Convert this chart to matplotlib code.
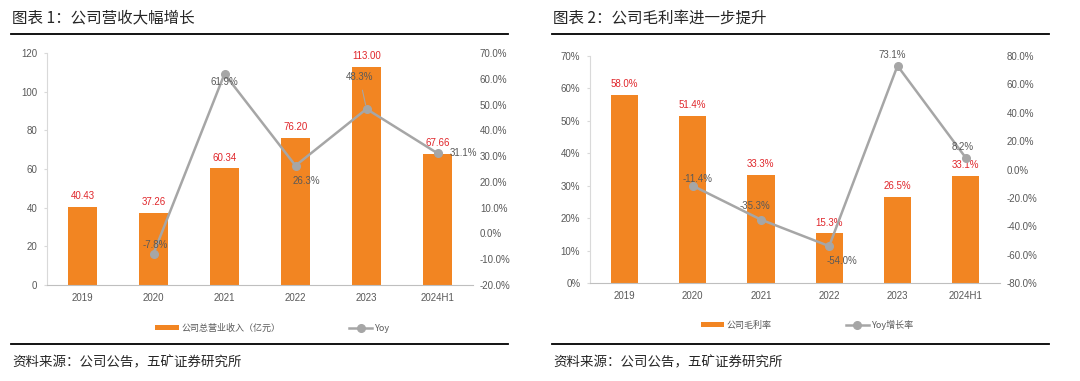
import numpy as np
import matplotlib
matplotlib.use('Agg')
from matplotlib import pyplot as plt
from matplotlib.lines import Line2D

plt.rcParams['font.family'] = ['Liberation Sans', 'Noto Sans CJK SC', 'DejaVu Sans']

years = ['2019', '2020', '2021', '2022', '2023', '2024H1']
revenue = [40.43, 37.26, 60.34, 76.20, 113.00, 67.66]
rev_yoy = [np.nan, -7.8, 61.9, 26.3, 48.3, 31.1]
margin = [58.0, 51.4, 33.3, 15.3, 26.5, 33.1]
margin_yoy = [np.nan, -11.4, -35.3, -54.0, 73.1, 8.2]

orange = '#F28522'
grey = '#A6A6A6'
red = '#E0262B'
tick_c = '#595959'
cjk = ['Noto Sans CJK SC', 'DejaVu Sans']

fig = plt.figure(figsize=(10.8, 3.81), dpi=100)

def fx(px):
    return px / 1080.0

def fy(py):
    return 1 - py / 381.0

def style(ax, ax2):
    for s in ['top', 'right']:
        ax.spines[s].set_visible(False)
    for s in ['top', 'right', 'left', 'bottom']:
        ax2.spines[s].set_visible(False)
    ax.spines['left'].set_color('#D9D9D9')
    ax.spines['bottom'].set_color('#BFBFBF')
    ax.tick_params(axis='y', labelsize=7, colors=tick_c, length=2, color='#D9D9D9', pad=5)
    ax.tick_params(axis='x', labelsize=7, colors=tick_c, length=0, pad=6)
    ax2.tick_params(axis='y', labelsize=7, colors=tick_c, length=0, pad=5)
    ax.set_xlim(-0.5, 5.5)

def label_yoy(ax2, vals, offs, lead):
    for i, (dx, dy) in offs.items():
        v = vals[i]
        kw = {}
        if i == lead:
            kw['arrowprops'] = dict(arrowstyle='-', color=grey, lw=0.8, shrinkA=4, shrinkB=3)
        ax2.annotate('%.1f%%' % v, (i, v), xytext=(dx, dy), textcoords='offset points',
                     ha='center', va='center', fontsize=7, color=tick_c, **kw)

x = np.arange(len(years))

# ---- chart 1
ax = fig.add_axes([fx(47), fy(285), fx(426), (285 - 53) / 381.0])
ax2 = ax.twinx()
b = ax.bar(x, revenue, width=0.4, color=orange)
ax.set_ylim(0, 120)
ax.set_yticks(range(0, 121, 20))
ax.set_xticks(x)
ax.set_xticklabels(years)
for i, v in enumerate(revenue):
    ax.text(i, v + 3, '%.2f' % v, ha='center', va='bottom', fontsize=7, color=red)
l, = ax2.plot(x, rev_yoy, color=grey, lw=1.8, marker='o', ms=5.5)
ax2.set_ylim(-20, 70)
ax2.set_yticks(range(-20, 71, 10))
ax2.set_yticklabels(['%.1f%%' % t for t in range(-20, 71, 10)])
label_yoy(ax2, rev_yoy, {1: (1, 6), 2: (0, -6), 3: (8, -11), 4: (-5, 23), 5: (19, 0)}, 4)
style(ax, ax2)
leg = ax.legend([b, l], ['公司总营业收入（亿元）', 'Yoy'], loc='center', bbox_to_anchor=(0.53, -0.185),
                ncol=2, frameon=False, columnspacing=7.6, handlelength=2.6, handletextpad=0.3,
                handleheight=0.5, prop={'family': cjk, 'size': 6.5})
for t in leg.get_texts():
    t.set_color(tick_c)

# ---- chart 2
bx = fig.add_axes([fx(590), fy(283), fx(410), (283 - 56) / 381.0])
bx2 = bx.twinx()
b2 = bx.bar(x, margin, width=0.4, color=orange)
bx.set_ylim(0, 70)
bx.set_yticks(range(0, 71, 10))
bx.set_yticklabels(['%d%%' % t for t in range(0, 71, 10)])
bx.set_xticks(x)
bx.set_xticklabels(years)
for i, v in enumerate(margin):
    bx.text(i, v + 1.8, '%.1f%%' % v, ha='center', va='bottom', fontsize=7, color=red)
l2, = bx2.plot(x, margin_yoy, color=grey, lw=1.8, marker='o', ms=5.5)
bx2.set_ylim(-80, 80)
bx2.set_yticks(range(-80, 81, 20))
bx2.set_yticklabels(['%.1f%%' % t for t in range(-80, 81, 20)])
label_yoy(bx2, margin_yoy, {1: (4, 5), 2: (-4, 10), 3: (9, -11), 4: (-4, 8), 5: (-2, 8)}, 3)
style(bx, bx2)
leg2 = bx.legend([b2, l2], ['公司毛利率', 'Yoy增长率'], loc='center', bbox_to_anchor=(0.53, -0.185),
                 ncol=2, frameon=False, columnspacing=8.2, handlelength=2.6, handletextpad=0.3,
                 handleheight=0.5, prop={'family': cjk, 'size': 6.5})
for t in leg2.get_texts():
    t.set_color(tick_c)

# ---- titles, rules, sources
for x0, x1, title in [(11, 508, '图表 1：公司营收大幅增长'), (552, 1049, '图表 2：公司毛利率进一步提升')]:
    fig.text(fx(x0 + 1), fy(18), title, fontsize=11.2, color='#262626', va='center', ha='left', family=cjk)
    fig.add_artist(Line2D([fx(x0), fx(x1)], [fy(34), fy(34)], color='black', lw=1.3))
    fig.add_artist(Line2D([fx(x0), fx(x1)], [fy(344), fy(344)], color='black', lw=1.3))
    fig.text(fx(x0 + 1), fy(362), '资料来源：公司公告，五矿证券研究所', fontsize=9.7, color='#262626',
             va='center', ha='left', family=cjk)

fig.savefig('out.png', dpi=100)
